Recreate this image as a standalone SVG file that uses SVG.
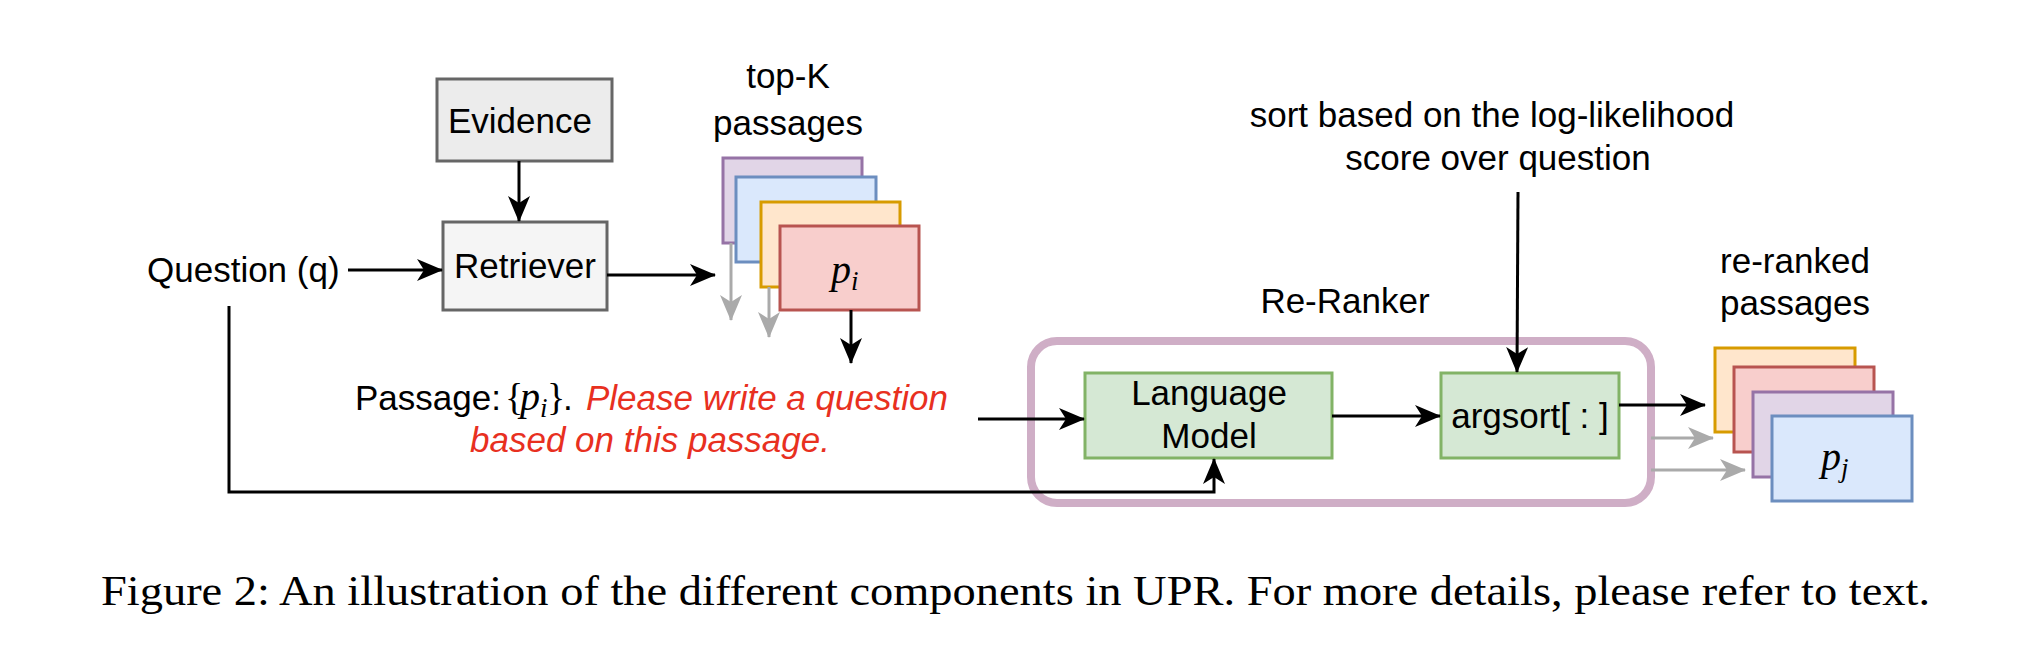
<svg xmlns="http://www.w3.org/2000/svg" width="2034" height="660" viewBox="0 0 2034 660">
<defs>
<style>
.t{font-family:"Liberation Sans",Arial,sans-serif;font-size:35px;fill:#000}
.m{font-family:"Liberation Serif","Times New Roman",serif;font-style:italic;fill:#000}
.mr{font-family:"Liberation Serif","Times New Roman",serif;font-style:normal;fill:#000}
.box{stroke-width:3}
.gray{fill:#f5f5f5;stroke:#666666}
.pur{fill:#e1d5e7;stroke:#9673a6}
.blu{fill:#dae8fc;stroke:#6c8ebf}
.ora{fill:#ffe6cc;stroke:#d79b00}
.red{fill:#f8cecc;stroke:#b85450}
.grn{fill:#d5e8d4;stroke:#82b366}
.ln{fill:none;stroke:#000;stroke-width:3}
.lg{fill:none;stroke:#aaaaaa;stroke-width:3}
</style>
<marker id="ab" markerUnits="userSpaceOnUse" markerWidth="26" markerHeight="22" viewBox="0 0 26 22" refX="25" refY="11" orient="auto">
<path d="M0,0 L26,11 L0,22 L7,11 z" fill="#000"/>
</marker>
<marker id="ag" markerUnits="userSpaceOnUse" markerWidth="26" markerHeight="22" viewBox="0 0 26 22" refX="25" refY="11" orient="auto">
<path d="M0,0 L26,11 L0,22 L7,11 z" fill="#aaaaaa"/>
</marker>
</defs>
<rect width="2034" height="660" fill="#fff"/>

<g id="reranker">
<rect x="1031" y="341" width="620" height="162" rx="26" fill="none" stroke="#cfaec6" stroke-width="8"/>
<text class="t" x="1345" y="313" text-anchor="middle">Re-Ranker</text>
</g>

<g id="evidence">
<rect class="box" x="437" y="79" width="175" height="82" fill="#ececec" stroke="#666666"/>
<text class="t" x="520" y="133" text-anchor="middle">Evidence</text>
</g>

<g id="retriever">
<rect class="box gray" x="443" y="222" width="164" height="88"/>
<text class="t" x="525" y="278" text-anchor="middle">Retriever</text>
</g>

<g id="question">
<text class="t" x="147" y="282">Question (q)</text>
</g>

<g id="topk">
<text class="t" x="788" y="88" text-anchor="middle">top-K</text>
<text class="t" x="788" y="135" text-anchor="middle">passages</text>
<rect class="box pur" x="723" y="158" width="139" height="85"/>
<rect class="box blu" x="736" y="177" width="140" height="85"/>
<rect class="box ora" x="761" y="202" width="139" height="85"/>
<rect class="box red" x="780" y="226" width="139" height="84"/>
<text class="m" x="831" y="283" font-size="40">p<tspan font-size="27" dy="7">i</tspan></text>
</g>

<g id="prompt">
<text class="t" x="355" y="410">Passage:</text>
<text class="mr" x="505" y="410" font-size="38">{</text>
<text class="m" x="520" y="410" font-size="40">p<tspan font-size="27" dy="7">i</tspan></text>
<text class="mr" x="547" y="410" font-size="38">}</text>
<text class="t" x="563" y="410">.</text>
<text class="t" x="586" y="410" font-style="italic" style="fill:#e8301f">Please write a question</text>
<text class="t" x="650" y="452" text-anchor="middle" font-style="italic" style="fill:#e8301f">based on this passage.</text>
</g>

<g id="sortnote">
<text class="t" x="1492" y="127" text-anchor="middle">sort based on the log-likelihood</text>
<text class="t" x="1498" y="170" text-anchor="middle">score over question</text>
</g>

<g id="lm">
<rect class="box grn" x="1085" y="373" width="247" height="85"/>
<text class="t" x="1209" y="405" text-anchor="middle">Language</text>
<text class="t" x="1209" y="448" text-anchor="middle">Model</text>
</g>

<g id="argsort">
<rect class="box grn" x="1441" y="373" width="178" height="85"/>
<text class="t" x="1530" y="428" text-anchor="middle">argsort[ : ]</text>
</g>

<g id="reranked">
<text class="t" x="1795" y="273" text-anchor="middle">re-ranked</text>
<text class="t" x="1795" y="315" text-anchor="middle">passages</text>
<rect class="box ora" x="1715" y="348" width="140" height="84"/>
<rect class="box red" x="1734" y="367" width="140" height="85"/>
<rect class="box pur" x="1753" y="392" width="140" height="85"/>
<rect class="box blu" x="1772" y="416" width="140" height="85"/>
<text class="m" x="1821" y="470" font-size="40">p<tspan font-size="27" dy="7">j</tspan></text>
</g>

<g id="connectors">
<line class="ln" x1="519" y1="161" x2="519" y2="221" marker-end="url(#ab)"/>
<line class="ln" x1="348" y1="270" x2="442" y2="270" marker-end="url(#ab)"/>
<line class="ln" x1="607" y1="275" x2="715" y2="275" marker-end="url(#ab)"/>
<line class="lg" x1="731" y1="243" x2="731" y2="320" marker-end="url(#ag)"/>
<line class="lg" x1="769" y1="287" x2="769" y2="337" marker-end="url(#ag)"/>
<line class="ln" x1="851" y1="310" x2="851" y2="363" marker-end="url(#ab)"/>
<line class="ln" x1="978" y1="419" x2="1084" y2="419" marker-end="url(#ab)"/>
<path class="ln" d="M229,306 L229,492 L1214,492 L1214,459" marker-end="url(#ab)"/>
<line class="ln" x1="1332" y1="416" x2="1440" y2="416" marker-end="url(#ab)"/>
<line class="ln" x1="1518" y1="192" x2="1517" y2="372" marker-end="url(#ab)"/>
<line class="ln" x1="1619" y1="405" x2="1705" y2="405" marker-end="url(#ab)"/>
<line class="lg" x1="1651" y1="438" x2="1713" y2="438" marker-end="url(#ag)"/>
<line class="lg" x1="1651" y1="470" x2="1745" y2="470" marker-end="url(#ag)"/>
</g>

<g id="caption">
<text x="101" y="605" font-family="'Liberation Serif','Times New Roman',serif" font-size="42" textLength="1829" lengthAdjust="spacingAndGlyphs">Figure 2: An illustration of the different components in UPR. For more details, please refer to text.</text>
</g>
</svg>
